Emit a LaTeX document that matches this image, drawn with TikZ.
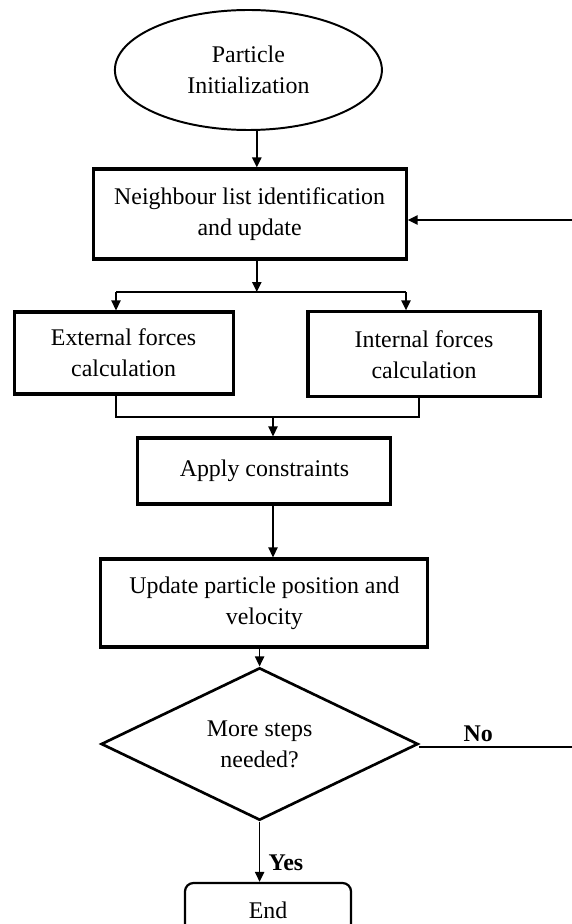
\documentclass[tikz,border=0pt]{standalone}
\usepackage{fontspec}
\setmainfont{Liberation Serif}
\usepackage{tikz}
\usetikzlibrary{arrows.meta,shapes.geometric}
\tikzset{
  >={Triangle[length=2.5mm,width=2.3mm]},
  procbox/.style={draw=black,line width=2.2pt,fill=white,align=center,inner sep=2pt,
    font=\fontsize{17}{22}\selectfont},
  startnode/.style={ellipse,draw=black,line width=1.4pt,fill=white,align=center,
    inner sep=0pt,font=\fontsize{17}{22}\selectfont},
  decision/.style={diamond,draw=black,line width=1.9pt,fill=white,align=center,
    inner sep=0pt,font=\fontsize{17}{22}\selectfont},
  endbox/.style={procbox,rounded corners=6pt,line width=1.6pt},
  flow/.style={->,line width=1.2pt},
  link/.style={line width=0.85pt},
  answer/.style={font=\bfseries\fontsize{17}{22}\selectfont,inner sep=3pt}
}

\begin{document}
\begin{tikzpicture}[x=1cm,y=1cm]
  \useasboundingbox (0,0) rectangle (14.275,-23.1);

  \node[startnode,minimum width=6.675cm,minimum height=3cm] (init) at (6.21,-1.75) {Particle\\Initialization};
  \node[procbox,minimum width=7.825cm,minimum height=2.25cm] (nbr) at (6.24,-5.35) {Neighbour list identification\\and update};
  \node[procbox,minimum width=5.475cm,minimum height=2.05cm] (ext) at (3.09,-8.825) {External forces\\calculation};
  \node[procbox,minimum width=5.8cm,minimum height=2.125cm] (int) at (10.6,-8.86) {Internal forces\\calculation};
  \node[procbox,minimum width=6.325cm,minimum height=1.65cm] (apply) at (6.61,-11.775) {Apply constraints};
  \node[procbox,minimum width=8.175cm,minimum height=2.2cm] (upd) at (6.61,-15.075) {Update particle position and\\velocity};
  \node[decision,minimum width=7.925cm,minimum height=3.65cm] (dec) at (6.49,-18.6) {More steps\\needed?};
  \node[endbox,minimum width=4.15cm,minimum height=1.35cm] (finish) at (6.7,-22.75) {End};

  % branch and merge points
  \coordinate (split) at (6.42,-7.3);
  \coordinate (brL) at (2.9,-7.3);
  \coordinate (brR) at (10.15,-7.3);
  \coordinate (mgL) at (2.9,-10.425);
  \coordinate (mgR) at (10.475,-10.425);
  \coordinate (mgC) at (6.825,-10.425);
  \coordinate (ret) at (14.45,-18.675);

  \draw[flow] (init.south -| split) -- (nbr.north -| split);
  \draw[flow] (nbr.south -| split) -- (split);
  \draw[link] (brL) -- (brR);
  \draw[flow] (brL) -- (brL |- ext.north);
  \draw[flow] (brR) -- (brR |- int.north);
  \draw[link] (mgL |- ext.south) -- (mgL) -- (mgR) -- (mgR |- int.south);
  \draw[flow] (mgC) -- (mgC |- apply.north);
  \draw[flow] (mgC |- apply.south) -- (mgC |- upd.north);
  \draw[flow] (upd.south -| dec.north) -- (dec.north);
  \draw[flow] (dec.south) -- node[answer,right,pos=0.68,xshift=1mm] {Yes} (finish.north -| dec.south);

  % loop back (vertical part lies beyond the right edge)
  \draw[flow] (dec.east |- ret) -- node[answer,above,pos=0.37] {No} (ret) |- ([yshift=-1.5mm]nbr.east);
\end{tikzpicture}
\end{document}
